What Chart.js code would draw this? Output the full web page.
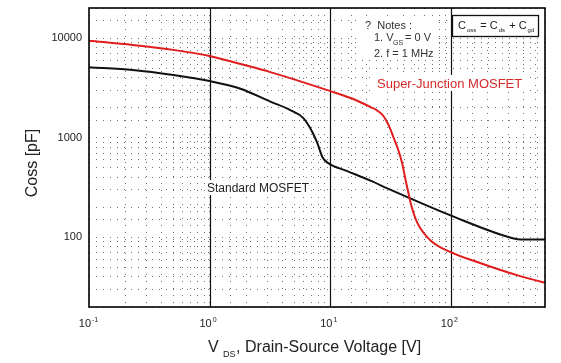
<!DOCTYPE html>
<html>
<head>
<meta charset="utf-8">
<script src="https://cdn.jsdelivr.net/npm/chart.js@4.4.1/dist/chart.umd.min.js"></script>
<style>
  html, body { margin: 0; padding: 0; background: #fff; }
  #wrap { width: 561px; height: 363px; }
</style>
</head>
<body>
<div id="wrap"><canvas id="cossChart" width="561" height="363"></canvas></div>
<script>
// Super-Junction MOSFET (red)
const sjVds  = [0.1, 0.23, 0.5, 1, 1.8, 3.18, 10, 16, 21.5, 24.5, 27.5, 30.5, 33.3, 36.6, 39.5, 41.9, 44, 47, 52.8, 67.6, 99, 176, 357, 600];
const sjCoss = [9400, 8500, 7600, 6600, 5480, 4550, 2930, 2400, 2030, 1870, 1650, 1320, 1010, 748, 540, 380, 290, 205, 138, 93, 71, 55, 41.5, 35];

// Standard MOSFET (black)
const stdVds  = [0.1, 0.23, 0.5, 1, 1.8, 3.18, 4.66, 5.97, 7.1, 7.8, 8.6, 9.6, 13.8, 21.5, 30.3, 44.4, 99, 324, 380, 600];
const stdCoss = [5100, 4770, 4250, 3700, 3100, 2300, 1890, 1570, 1135, 880, 637, 555, 462, 370, 306, 250, 166, 98, 95, 95];

const yMajor = [100, 1000, 10000];
const xMajor = [0.1, 1, 10, 100];
const xExp = ['-1', '0', '1', '2'];

const pts = (xs, ys) => xs.map((x, i) => ({ x: x, y: ys[i] }));

const FONT = 'Liberation Sans, Arial, sans-serif';

// frame, solid decade lines, tick labels and the notes
const decor = {
    id: 'decor',
    beforeDatasetsDraw(chart) {
        const { ctx, chartArea: a, scales } = chart;
        ctx.save();
        ctx.strokeStyle = '#111';
        ctx.lineWidth = 1.2;
        [1, 10, 100].forEach(v => {
            const px = Math.round(scales.x.getPixelForValue(v)) + 0.5;
            ctx.beginPath();
            ctx.moveTo(px, a.top);
            ctx.lineTo(px, a.bottom);
            ctx.stroke();
        });
        ctx.restore();
    },
    afterDraw(chart) {
        const { ctx, chartArea: a, scales } = chart;
        ctx.save();
        ctx.strokeStyle = '#000';
        ctx.lineWidth = 1.6;
        ctx.strokeRect(a.left, a.top, a.right - a.left, a.bottom - a.top);

        // x tick labels 10^n
        ctx.fillStyle = '#222';
        ctx.textBaseline = 'alphabetic';
        xMajor.forEach((v, i) => {
            const px = scales.x.getPixelForValue(v);
            ctx.font = '11px ' + FONT;
            ctx.textAlign = 'right';
            ctx.fillText('10', px + 2, a.bottom + 20);
            ctx.font = '7px ' + FONT;
            ctx.textAlign = 'left';
            ctx.fillText(xExp[i], px + 3, a.bottom + 15);
        });

        // axis titles
        ctx.fillStyle = '#222';
        ctx.font = '16px ' + FONT;
        ctx.textAlign = 'left';
        ctx.fillText('V', 208, 352);
        ctx.font = '9px ' + FONT;
        ctx.fillText('DS', 223, 357);
        ctx.font = '16px ' + FONT;
        ctx.fillText(',', 236, 352);
        ctx.fillText('Drain-Source Voltage [V]', 245, 352);

        ctx.save();
        ctx.translate(37, 163);
        ctx.rotate(-Math.PI / 2);
        ctx.textAlign = 'center';
        ctx.font = '16px ' + FONT;
        ctx.fillText('Coss [pF]', 0, 0);
        ctx.restore();

        // notes
        ctx.font = '11px ' + FONT;
        ctx.textAlign = 'left';
        ctx.fillStyle = '#fff';
        ctx.fillRect(360, 17, 75, 43);
        ctx.fillStyle = '#333';
        ctx.fillText('?  Notes :', 365, 29);
        ctx.fillText('1. V', 374, 41);
        ctx.font = '7px ' + FONT;
        ctx.fillText('GS', 393, 45);
        ctx.font = '11px ' + FONT;
        ctx.fillText('= 0 V', 405, 41);
        ctx.fillText('2. f = 1 MHz', 374, 57);

        // Coss box
        ctx.fillStyle = '#fff';
        ctx.fillRect(452, 15, 86, 21);
        ctx.strokeStyle = '#111';
        ctx.lineWidth = 1.3;
        ctx.strokeRect(452.5, 15.5, 86, 21);
        ctx.fillStyle = '#222';
        const parts = [['C', 11, 0], ['oss', 6, 3], [' = C', 11, 0], ['ds', 6, 3], [' + C', 11, 0], ['gd', 6, 3]];
        let cx = 458;
        parts.forEach(p => {
            ctx.font = p[1] + 'px ' + FONT;
            ctx.fillText(p[0], cx, 29 + p[2]);
            cx += ctx.measureText(p[0]).width + 1;
        });

        // curve names
        ctx.fillStyle = '#fff';
        ctx.fillRect(376, 75, 150, 16);
        ctx.fillRect(206, 180, 102, 15);
        ctx.font = '13px ' + FONT;
        ctx.fillStyle = '#d42a2a';
        ctx.fillText('Super-Junction MOSFET', 377, 88);
        ctx.font = '12px ' + FONT;
        ctx.fillStyle = '#222';
        ctx.fillText('Standard MOSFET', 207, 192);
        ctx.restore();
    }
};

const ctx = document.getElementById('cossChart').getContext('2d');
const cossChart = new Chart(ctx, {
    type: 'scatter',
    data: {
        datasets: [
            {
                label: 'Super-Junction MOSFET',
                data: pts(sjVds, sjCoss),
                showLine: true,
                borderColor: '#e01c1c',
                borderWidth: 2,
                pointRadius: 0,
                cubicInterpolationMode: 'monotone'
            },
            {
                label: 'Standard MOSFET',
                data: pts(stdVds, stdCoss),
                showLine: true,
                borderColor: '#111',
                borderWidth: 2,
                pointRadius: 0,
                cubicInterpolationMode: 'monotone'
            }
        ]
    },
    options: {
        responsive: false,
        animation: false,
        layout: { padding: { top: 8, right: 16, left: 0, bottom: 0 } },
        plugins: {
            legend: { display: false },
            tooltip: { enabled: false }
        },
        scales: {
            x: {
                type: 'logarithmic',
                min: 0.1,
                max: 600,
                border: { display: false, dash: [1, 6] },
                grid: { color: 'rgba(0,0,0,0.55)', drawTicks: false },
                ticks: { display: false },
                afterFit: s => { s.height = 56; s.paddingLeft = 0; s.paddingRight = 0; }
            },
            y: {
                type: 'logarithmic',
                min: 20,
                max: 20000,
                border: { display: false, dash: [1, 6] },
                grid: { color: 'rgba(0,0,0,0.55)', drawTicks: false },
                ticks: {
                    padding: 7,
                    color: '#222',
                    font: { family: FONT, size: 11 },
                    autoSkip: false,
                    callback: v => yMajor.includes(v) ? String(v) : ''
                },
                afterFit: s => { s.width = 89; s.paddingTop = 0; s.paddingBottom = 0; }
            }
        }
    },
    plugins: [decor]
});
</script>
</body>
</html>
